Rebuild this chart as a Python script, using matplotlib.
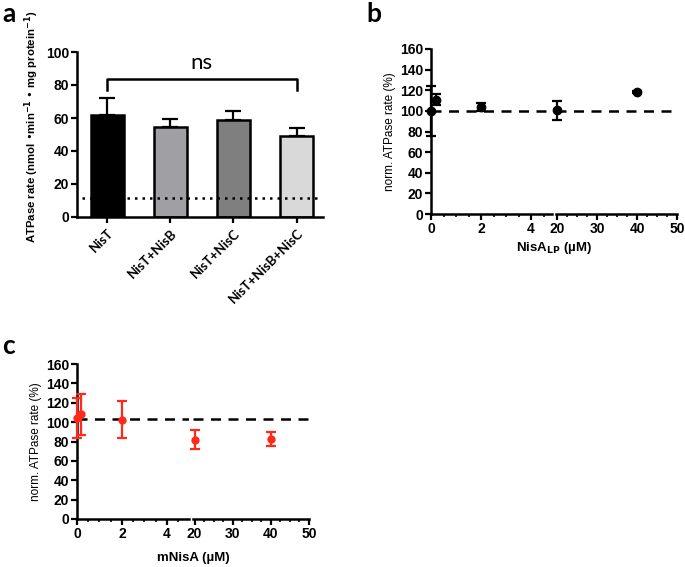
import matplotlib
matplotlib.use("Agg")
import matplotlib.pyplot as plt
from matplotlib.ticker import MultipleLocator

plt.rcParams['font.family'] = ['Liberation Sans', 'DejaVu Sans']
plt.rcParams['font.weight'] = 'bold'
plt.rcParams['mathtext.default'] = 'bf'

# panel a: ATPase rates
bar_names = ["NisT", "NisT+NisB", "NisT+NisC", "NisT+NisB+NisC"]
bar_values = [62, 54.5, 59, 49]
bar_errors = [10, 5, 5, 5]
bar_colors = ["#000000", "#a0a0a4", "#7f7f7f", "#d9d9d9"]
basal_level = 11.5

# panel b: NisA_LP
b_x = [0, 0.2, 2, 20, 40]
b_y = [100, 111, 104, 100.5, 118.5]
b_err = [24, 5, 4, 9.5, 1]

# panel c: mNisA
c_x = [0, 0.2, 2, 20, 40]
c_y = [104, 108, 102.4, 82, 82.5]
c_err = [20.5, 21, 19, 9.5, 7.5]
c_ref = 103

W, H = 685, 567
fig = plt.figure(figsize=(W / 100, H / 100), dpi=100)

def rect(x0, x1, ytop, ybot):
    return [x0 / W, 1 - ybot / H, (x1 - x0) / W, (ybot - ytop) / H]

def style_axis(ax):
    for s in ["top", "right"]:
        ax.spines[s].set_visible(False)
    for s in ["left", "bottom"]:
        ax.spines[s].set_linewidth(1.8)
    ax.tick_params(width=1.6, length=4, labelsize=10, pad=1.5)

def bold_ticks(ax):
    for lab in ax.get_xticklabels() + ax.get_yticklabels():
        lab.set_fontweight("bold")

# ---- a ----
ax = fig.add_axes(rect(77, 323, 52, 217))
pos = range(len(bar_names))
ax.bar(pos, bar_values, width=0.52, color=bar_colors, edgecolor="black", linewidth=1.8,
       yerr=[[0] * 4, bar_errors], capsize=6, error_kw=dict(elinewidth=1.6, capthick=1.6), zorder=2)
ax.axhline(basal_level, xmin=0.02, xmax=0.99, color="black", ls=(0, (1, 2)), lw=1.8, zorder=3)
ax.plot([0, 0, 3, 3], [77, 83.5, 83.5, 77], color="black", lw=1.8)
ax.text(1.5, 87, "ns", ha="center", va="bottom", fontsize=16, fontweight="normal",
        family=["Lato", "DejaVu Sans"])
ax.set_xlim(-0.48, 3.42)
ax.set_ylim(0, 100)
ax.set_yticks([0, 20, 40, 60, 80, 100])
ax.set_xticks(list(pos))
ax.set_xticklabels(bar_names, rotation=45, ha="right", rotation_mode="anchor",
                   family=["Lato", "DejaVu Sans"], fontsize=9.5)
ax.set_ylabel("ATPase rate (nmol \u2022min$^{-1}$ \u2022 mg protein$^{-1}$)",
              fontsize=8.2, fontweight="bold")
ax.yaxis.set_label_coords(-0.145, 0.545)
style_axis(ax)
ax.tick_params(axis="x", labelsize=9.5, pad=3)
bold_ticks(ax)

def broken(left_px, right_px, ytop, ybot, lim1, lim2, xs, ys, errs, ref, color, ms):
    ax1 = fig.add_axes(rect(left_px[0], left_px[1], ytop, ybot))
    ax2 = fig.add_axes(rect(right_px[0], right_px[1], ytop, ybot))
    for a, lim in [(ax1, lim1), (ax2, lim2)]:
        a.axhline(ref, color="black", ls=(0, (4, 3)), lw=1.8, zorder=1)
        keep = [i for i, x in enumerate(xs) if lim[0] <= x <= lim[1]]
        a.errorbar([xs[i] for i in keep], [ys[i] for i in keep], yerr=[errs[i] for i in keep],
                   fmt="o", color=color, ms=ms, capsize=3.5, elinewidth=1.6, capthick=1.6,
                   clip_on=False, zorder=3)
        a.set_xlim(*lim)
        a.set_ylim(0, 160)
        a.set_yticks(range(0, 161, 20))
        style_axis(a)
    ax1.set_xticks([0, 2, 4])
    ax1.xaxis.set_minor_locator(MultipleLocator(0.5))
    ax2.set_xticks([20, 30, 40, 50])
    ax2.xaxis.set_minor_locator(MultipleLocator(2.5))
    for a in (ax1, ax2):
        a.tick_params(which="minor", length=2, width=1.2)
        bold_ticks(a)
    ax2.spines["left"].set_visible(False)
    ax2.tick_params(axis="y", left=False, labelleft=False)
    ax1.set_ylabel("norm. ATPase rate (%)", fontsize=8.5, fontweight="normal", labelpad=3)
    mid = ((left_px[0] + right_px[1]) / 2) / W
    return mid

# ---- b ----
mid = broken((431, 552), (556, 677), 49, 214, (0, 4.84), (19.75, 50), b_x, b_y, b_err,
             100, "black", 6)
fig.text(mid, 1 - 248 / H, "NisA$_{LP}$ (\u00b5M)", ha="center", va="center", fontsize=9.5,
         fontweight="bold")

# ---- c ----
mid = broken((77, 189), (193, 309), 364, 519, (0, 4.98), (19.6, 50), c_x, c_y, c_err,
             c_ref, "#ff2a1a", 5)
fig.text(mid, 1 - 558 / H, "mNisA (\u00b5M)", ha="center", va="center", fontsize=9.5,
         fontweight="bold")

for letter, px, py in [("a", 2, 14), ("b", 366, 14), ("c", 2, 346)]:
    fig.text(px / W, 1 - py / H, letter, fontsize=19, fontweight="bold", va="center",
             family=["Lato", "DejaVu Sans"])

fig.savefig("out.png", dpi=100)
